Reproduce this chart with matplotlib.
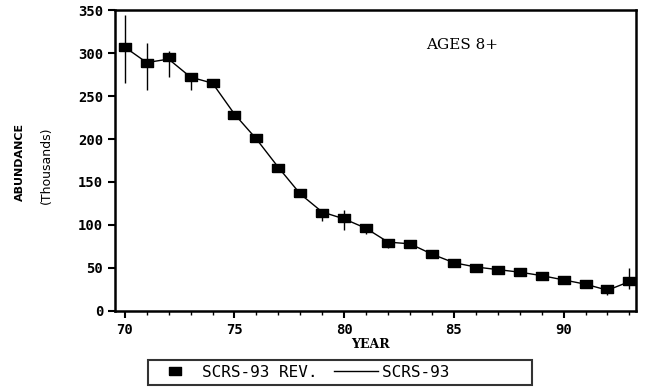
import matplotlib
matplotlib.use("Agg")
import matplotlib.pyplot as plt
from matplotlib.lines import Line2D
import numpy as np

years = [70, 71, 72, 73, 74, 75, 76, 77, 78, 79, 80, 81, 82, 83, 84, 85, 86, 87, 88, 89, 90, 91, 92, 93]
rev_values = [307, 288, 295, 272, 265, 228, 201, 166, 137, 114, 108, 96, 79, 78, 66, 56, 50, 48, 45, 41, 36, 31, 25, 35]
err_low = [265, 257, 272, 257, 262, 225, 198, 163, 133, 104, 94, 90, 73, 74, 62, 54, 48, 46, 43, 38, 31, 27, 18, 25]
err_high = [344, 312, 303, 275, 268, 231, 204, 169, 140, 118, 117, 99, 82, 81, 69, 58, 52, 50, 47, 44, 40, 33, 30, 50]
line_values = [307, 289, 293, 272, 265, 229, 200, 167, 136, 115, 107, 96, 80, 78, 66, 56, 51, 48, 45, 41, 36, 31, 24, 34]
legend_labels = ['SCRS-93 REV.', 'SCRS-93        ']

rect = [(-1, -0.6), (1, -0.6), (1, 0.6), (-1, 0.6), (-1, -0.6)]

fig = plt.figure(figsize=(6.49, 3.90), dpi=100)
ax = fig.add_axes([0.177, 0.203, 0.803, 0.771])

yrs = np.array(years)
vals = np.array(rev_values)
lo = vals - np.array(err_low)
hi = np.array(err_high) - vals
ax.errorbar(yrs, vals, yerr=[lo, hi], fmt='none', ecolor='black', elinewidth=1.0, capsize=0)
ax.plot(years, line_values, color='black', linewidth=1.0)
ax.plot(years, rev_values, linestyle='none', marker=rect, markersize=9, color='black')

ax.set_xlim(69.55, 93.3)
ax.set_ylim(0, 350)
ax.set_xticks([70, 75, 80, 85, 90])
ax.set_xticks(years, minor=True)
ax.set_yticks([0, 50, 100, 150, 200, 250, 300, 350])
ax.tick_params(axis='both', which='major', direction='out', length=5, width=1.5, labelsize=10)
ax.tick_params(axis='x', which='minor', direction='out', length=3, width=1)
for lab in ax.get_xticklabels() + ax.get_yticklabels():
    lab.set_family('DejaVu Sans Mono')
    lab.set_fontweight('bold')
for s in ax.spines.values():
    s.set_linewidth(1.8)

fig.text(462 / 649, 1 - 45 / 390, 'AGES 8+', fontsize=11, family='DejaVu Serif',
         ha='center', va='center')
fig.text(370 / 649, 1 - 345 / 390, 'YEAR', fontsize=9, family='DejaVu Serif',
         fontweight='bold', ha='center', va='center')
fig.text(20 / 649, 1 - 162 / 390, 'ABUNDANCE', fontsize=8, family='DejaVu Sans',
         fontweight='bold', rotation=90, ha='center', va='center')
fig.text(46 / 649, 1 - 165 / 390, '(Thousands)', fontsize=9, family='DejaVu Sans',
         rotation=90, ha='center', va='center')

handles = [Line2D([], [], linestyle='none', marker=rect, markersize=9, color='black'),
           Line2D([], [], color='black', linewidth=1.0)]
leg = fig.legend(handles, legend_labels, loc='upper left',
                 bbox_to_anchor=(148 / 649, 1 - 360 / 390), borderaxespad=0,
                 ncol=2, frameon=True,
                 fancybox=False, edgecolor='black', prop={'family': 'DejaVu Sans Mono', 'size': 11.5},
                 handlelength=2.75, handletextpad=0.3, columnspacing=1.05, borderpad=0.3)
leg.get_frame().set_linewidth(1.5)

fig.savefig('out.png', dpi=100)
